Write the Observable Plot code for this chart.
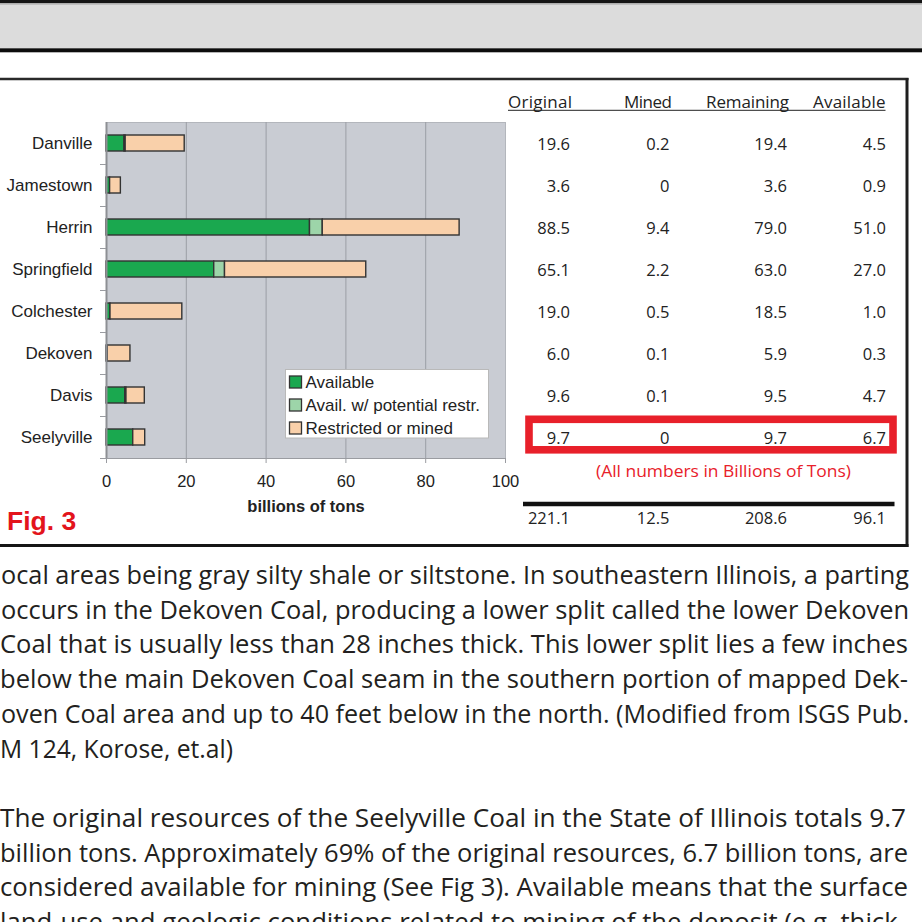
<!DOCTYPE html>
<html><head><meta charset="utf-8">
<script src="https://cdn.jsdelivr.net/npm/d3@7"></script>
<script src="https://cdn.jsdelivr.net/npm/@observablehq/plot@0.6"></script>
<style>
html,body{margin:0;padding:0;background:#fff;}
#page{position:relative;width:922px;height:922px;overflow:hidden;background:#fff;}
#page > svg{position:absolute;left:0;top:0;}
</style></head><body><div id="page"></div>
<script>
// ---------- data ----------
const categories = ["Danville","Jamestown","Herrin","Springfield","Colchester","Dekoven","Davis","Seelyville"];
const seriesNames = ["Available","Avail. w/ potential restr.","Restricted or mined"];
const seriesColors = ["#1aa84f","#9dd5a9","#f9d0aa"];
const available  = [4.5, 0.9, 51.0, 27.0, 1.0, 0.3, 4.7, 6.7];
const potential  = [0.3, 0,   3.2,  2.7,  0,   0,   0.3, 0];
const restricted = [14.8, 2.7, 34.3, 35.4, 18.0, 5.7, 4.6, 3.0];
const xTicks = [0, 20, 40, 60, 80, 100];
const xLabel = "billions of tons";
const figLabel = "Fig. 3";

const tableHeaders = ["Original","Mined","Remaining","Available"];
const originalTxt  = ["19.6","3.6","88.5","65.1","19.0","6.0","9.6","9.7"];
const minedTxt     = ["0.2","0","9.4","2.2","0.5","0.1","0.1","0"];
const remainingTxt = ["19.4","3.6","79.0","63.0","18.5","5.9","9.5","9.7"];
const availTxt     = ["4.5","0.9","51.0","27.0","1.0","0.3","4.7","6.7"];
const totalsTxt    = ["221.1","12.5","208.6","96.1"];
const noteTxt = "(All numbers in Billions of Tons)";

const bodyLines = [
  "ocal areas being gray silty shale or siltstone.  In southeastern Illinois, a parting",
  "occurs in the Dekoven Coal, producing a lower split called the lower Dekoven",
  "Coal that is usually less than 28 inches thick. This lower split lies a few inches",
  "below the main Dekoven Coal seam in the southern portion of mapped Dek-",
  "oven Coal area and up to 40 feet below in the north. (Modified from ISGS Pub.",
  "M 124, Korose, et.al)",
  "",
  "The original resources of the Seelyville Coal in the State of Illinois totals 9.7",
  "billion tons.  Approximately 69% of the original resources, 6.7 billion tons, are",
  "considered available for mining (See Fig 3).   Available means that the surface",
  "land-use and geologic conditions related to mining of the deposit (e.g. thick-"
];

// ---------- layout ----------
const W = 922, H = 560;
const L = 106, R = 505, T = 122, B = 458;
const colRight = [569.5, 669, 786.5, 885.5];
const headerBox = [[508, 572], [624, 672], [706, 789], [813, 885.5]];
const tableFont = "'Open Sans', 'Noto Sans', sans-serif";
const chartFont = "'Liberation Sans', Arial, sans-serif";

const bars = [];
categories.forEach((name, i) => {
  [available, potential, restricted].forEach((arr, k) => {
    if (arr[i] > 0) bars.push({name, series: seriesNames[k], value: arr[i]});
  });
});
const table = categories.map((name, i) => ({name, cols: [originalTxt[i], minedTxt[i], remainingTxt[i], availTxt[i]]}));

const page = document.getElementById("page");

// ---------- background document overlay ----------
const bg = d3.select(page).append("svg").attr("width", 922).attr("height", 922);
bg.append("rect").attr("x",0).attr("y",0).attr("width",922).attr("height",3.3).attr("fill","#151515");
bg.append("rect").attr("x",0).attr("y",3.3).attr("width",922).attr("height",1.5).attr("fill","#a8a8a8");
bg.append("rect").attr("x",0).attr("y",4.8).attr("width",922).attr("height",43.5).attr("fill","#dcdcdc");
bg.append("rect").attr("x",0).attr("y",48.3).attr("width",922).attr("height",4).attr("fill","#0d0d0d");
// figure frame
bg.append("line").attr("x1",0).attr("x2",908.5).attr("y1",79).attr("y2",79).attr("stroke","#2a2a2a").attr("stroke-width",2.3);
bg.append("line").attr("x1",907).attr("x2",907).attr("y1",78).attr("y2",547).attr("stroke","#1e1e1e").attr("stroke-width",3);
bg.append("line").attr("x1",0).attr("x2",908.5).attr("y1",545.5).attr("y2",545.5).attr("stroke","#151515").attr("stroke-width",3);

// body text
const body = bg.append("g").attr("font-family", "'Open Sans', 'Noto Sans', sans-serif")
  .attr("font-size", 25).attr("fill", "#231f20").attr("text-anchor", "start").style("white-space", "pre");
const lineSpec = [[1,909],[1,909],[0,908],[0,908],[1,909],[0,233],null,[0,906],[0,908],[0,908],[0,906]];
bodyLines.forEach((t, i) => {
  if (!t) return;
  const [x0, x1] = lineSpec[i];
  body.append("text").attr("x", x0).attr("y", 584 + 34.7 * i)
    .attr("textLength", x1 - x0).attr("lengthAdjust", "spacingAndGlyphs").text(t);
});

// ---------- chart ----------
const chart = Plot.plot({
  width: W, height: H,
  marginLeft: L, marginRight: W - R, marginTop: T, marginBottom: H - B,
  style: {fontFamily: chartFont, fontSize: "17px", color: "#222", background: "transparent", overflow: "visible"},
  x: {domain: [0, 100]},
  y: {domain: categories, paddingInner: 0.62, paddingOuter: 0.31},
  color: {domain: seriesNames, range: seriesColors},
  marks: [
    Plot.frame({fill: "#c9ccd3", stroke: "#b3b6bc"}),
    Plot.ruleX(xTicks.slice(1, -1), {stroke: "#9b9ea5", strokeWidth: 1}),
    Plot.barX(bars, {y: "name", x: "value", fill: "series", stroke: "#333", strokeWidth: 1.4, order: seriesNames}),
    Plot.ruleX([0], {stroke: "#8d8f94", strokeWidth: 2}),
    Plot.ruleY([categories[categories.length - 1]], {dy: 21, stroke: "#9a9ca1"}),
    Plot.ruleY(categories, {x1: 0, x2: 0, dy: 21, insetLeft: -6, stroke: "#9a9ca1"}),
    Plot.axisX({ticks: xTicks, tickSize: 5, tickPadding: 12, fontSize: 16.5, stroke: "#9a9ca1", label: null}),
    Plot.axisY({tickSize: 0, tickPadding: 14, label: null}),
    Plot.text([xLabel], {frameAnchor: "bottom", dy: 53, fontWeight: "bold", fontSize: 16.5, fill: "#222"}),
    ...[0, 1, 2, 3].map(j => Plot.text(table, {
      y: "name", text: d => d.cols[j], frameAnchor: "right", dx: colRight[j] - R, dy: 1.5,
      textAnchor: "end", fontFamily: tableFont, fontSize: 16.5, fill: "#222"
    })),
    ...[0, 1, 2, 3].map(j => Plot.text([totalsTxt[j]], {
      frameAnchor: "bottom-right", dx: colRight[j] - R, dy: 523 - B,
      textAnchor: "end", fontFamily: tableFont, fontSize: 16.5, fill: "#222"
    }))
  ]
});
page.appendChild(chart);

// ---------- legend, table decorations (inside the plot svg) ----------
const svg = d3.select(chart);
const lg = svg.append("g").attr("font-family", chartFont).attr("font-size", 17).attr("fill", "#222").attr("text-anchor", "start");
lg.append("rect").attr("x", 285.5).attr("y", 369.5).attr("width", 203).attr("height", 68.5)
  .attr("fill", "#fff").attr("stroke", "#b9b9b9");
seriesNames.forEach((s, i) => {
  const cy = 382 + 23 * i;
  lg.append("rect").attr("x", 289.5).attr("y", cy - 6).attr("width", 12).attr("height", 12)
    .attr("fill", seriesColors[i]).attr("stroke", "#333").attr("stroke-width", 1.3);
  lg.append("text").attr("x", 305.5).attr("y", cy).attr("dy", "0.35em").text(s);
});

const deco = svg.append("g").attr("text-anchor", "start");
deco.append("text").attr("x", 7).attr("y", 530).attr("font-family", chartFont).attr("font-weight", "bold")
  .attr("font-size", 26.5).attr("fill", "#e3141c").text(figLabel);
const hdr = deco.append("g").attr("font-family", tableFont).attr("font-size", 17).attr("fill", "#222");
tableHeaders.forEach((h, j) => {
  const [a, b] = headerBox[j];
  hdr.append("text").attr("x", a).attr("y", 108).attr("textLength", b - a).attr("lengthAdjust", "spacing").text(h);
});
deco.append("line").attr("x1", 508).attr("x2", 885.5).attr("y1", 110.3).attr("y2", 110.3).attr("stroke", "#222").attr("stroke-width", 1);
deco.append("rect").attr("x", 529).attr("y", 419.3).attr("width", 364).attr("height", 30.5)
  .attr("fill", "none").attr("stroke", "#e8202a").attr("stroke-width", 7.6);
deco.append("text").attr("x", 596).attr("y", 477).attr("textLength", 255).attr("lengthAdjust", "spacingAndGlyphs")
  .attr("font-family", tableFont).attr("font-size", 16.5).attr("fill", "#e8202a").text(noteTxt);
deco.append("line").attr("x1", 523).attr("x2", 894.5).attr("y1", 504).attr("y2", 504).attr("stroke", "#111").attr("stroke-width", 4.5);
</script>
</body></html>
